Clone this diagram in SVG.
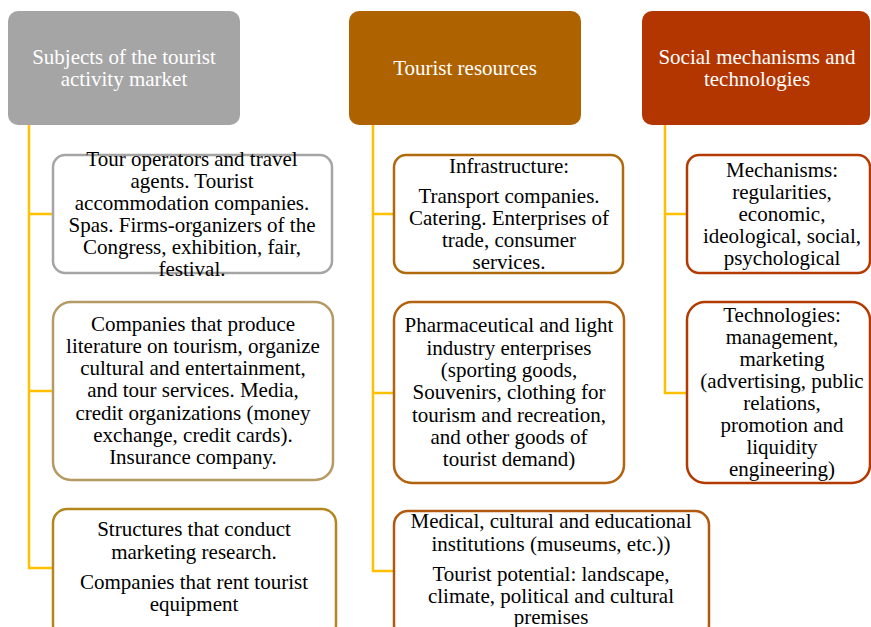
<svg xmlns="http://www.w3.org/2000/svg" width="871" height="627" viewBox="0 0 871 627">
<style>
text{font-family:"Liberation Serif","Times New Roman",serif;font-size:21px;text-anchor:middle;fill:#000}
.h text{fill:#fff}
.b{fill:#fff;stroke-width:2.5}
.c{fill:none;stroke:#FFC000;stroke-width:2.5}
</style>
<rect width="871" height="627" fill="#fff"/>
<g id="connectors">
<path class="c" d="M29,125V568H53M29,214H53M29,391H53"/>
<path class="c" d="M373,125V571H394M373,214H394M373,393H394"/>
<path class="c" d="M665,125V393H687M665,214H687"/>
</g>
<g id="h1" class="h">
<rect x="8" y="11" width="232" height="114" rx="10" fill="#A5A5A5"/>
<text x="124" y="64">Subjects of the tourist</text>
<text x="124" y="86">activity market</text>
</g>
<g id="h2" class="h">
<rect x="349" y="11" width="232" height="114" rx="10" fill="#AF6300"/>
<text x="465" y="75">Tourist resources</text>
</g>
<g id="h3" class="h">
<rect x="642" y="11" width="228" height="114" rx="10" fill="#B33600"/>
<text x="757" y="64">Social mechanisms and</text>
<text x="757" y="86">technologies</text>
</g>
<g id="n1">
<rect class="b" x="53" y="155" width="279" height="118" rx="12" stroke="#A5A5A5"/>
<text x="192" y="166">Tour operators and travel</text>
<text x="192" y="188">agents. Tourist</text>
<text x="192" y="210">accommodation companies.</text>
<text x="192" y="232">Spas. Firms-organizers of the</text>
<text x="192" y="254">Congress, exhibition, fair,</text>
<text x="192" y="276">festival.</text>
</g>
<g id="n2">
<rect class="b" x="53" y="302" width="280" height="178" rx="18" stroke="#B59A64"/>
<text x="193" y="331">Companies that produce</text>
<text x="193" y="353">literature on tourism, organize</text>
<text x="193" y="375">cultural and entertainment,</text>
<text x="193" y="397">and tour services. Media,</text>
<text x="193" y="420">credit organizations (money</text>
<text x="193" y="442">exchange, credit cards).</text>
<text x="193" y="464">Insurance company.</text>
</g>
<g id="n3">
<rect class="b" x="53" y="509" width="283" height="130" rx="14" stroke="#B4861C"/>
<text x="194" y="536">Structures that conduct</text>
<text x="194" y="559">marketing research.</text>
<text x="194" y="589">Companies that rent tourist</text>
<text x="194" y="611">equipment</text>
</g>
<g id="n4">
<rect class="b" x="394" y="155" width="229" height="118" rx="12" stroke="#AF6A0C"/>
<text x="509" y="173">Infrastructure:</text>
<text x="509" y="203">Transport companies.</text>
<text x="509" y="225">Catering. Enterprises of</text>
<text x="509" y="247">trade, consumer</text>
<text x="509" y="269">services.</text>
</g>
<g id="n5">
<rect class="b" x="394" y="302" width="230" height="181" rx="18" stroke="#B3620E"/>
<text x="509" y="332">Pharmaceutical and light</text>
<text x="509" y="355">industry enterprises</text>
<text x="509" y="377">(sporting goods,</text>
<text x="509" y="399">Souvenirs, clothing for</text>
<text x="509" y="422">tourism and recreation,</text>
<text x="509" y="444">and other goods of</text>
<text x="509" y="466">tourist demand)</text>
</g>
<g id="n6">
<rect class="b" x="394" y="511" width="315" height="128" rx="14" stroke="#B3580F"/>
<text x="551" y="528">Medical, cultural and educational</text>
<text x="551" y="551">institutions (museums, etc.))</text>
<text x="551" y="581">Tourist potential: landscape,</text>
<text x="551" y="603">climate, political and cultural</text>
<text x="551" y="624">premises</text>
</g>
<g id="n7">
<rect class="b" x="687" y="155" width="183" height="118" rx="12" stroke="#B33A00"/>
<text x="782" y="177">Mechanisms:</text>
<text x="782" y="199">regularities,</text>
<text x="782" y="221">economic,</text>
<text x="782" y="243">ideological, social,</text>
<text x="782" y="265">psychological</text>
</g>
<g id="n8">
<rect class="b" x="687" y="302" width="183" height="181" rx="18" stroke="#B33A00"/>
<text x="782" y="322">Technologies:</text>
<text x="782" y="344">management,</text>
<text x="782" y="366">marketing</text>
<text x="782" y="388">(advertising, public</text>
<text x="782" y="410">relations,</text>
<text x="782" y="432">promotion and</text>
<text x="782" y="454">liquidity</text>
<text x="782" y="476">engineering)</text>
</g>
</svg>
